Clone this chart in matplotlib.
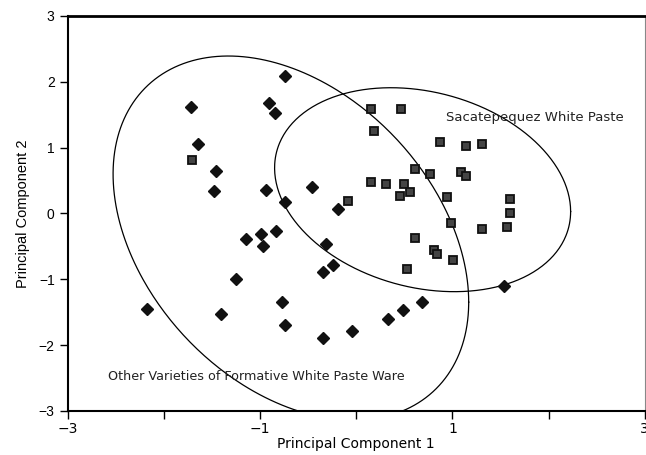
import matplotlib.pyplot as plt
import numpy as np

# other varieties of formative white paste ware (diamonds)
other_x = [-0.74, -1.72, -0.91, -0.85, -1.65, -1.46, -1.48, -0.94, -0.74, -0.46,
           -0.19, 1.54, 0.68, 0.49, 0.33, -0.04, -0.24, -0.31, -1.15, -0.99,
           -0.97, -0.83, -0.35, -1.25, -2.18, -1.41, -0.77, -0.74, -0.35]
other_y = [2.08, 1.62, 1.68, 1.53, 1.05, 0.65, 0.34, 0.35, 0.17, 0.40,
           0.07, -1.11, -1.34, -1.47, -1.60, -1.79, -0.78, -0.46, -0.39, -0.32,
           -0.49, -0.26, -0.89, -0.99, -1.46, -1.53, -1.35, -1.69, -1.90]

# sacatepequez white paste (squares)
sac_x = [-1.71, -0.09, 0.15, 0.47, 0.18, 0.875, 1.14, 1.31, 0.61, 0.77,
         1.09, 1.14, 0.15, 0.31, 0.50, 0.46, 0.56, 0.94, 1.60, 1.60,
         0.99, 1.31, 1.57, 0.61, 0.81, 0.84, 1.01, 0.53]
sac_y = [0.81, 0.19, 1.58, 1.59, 1.25, 1.09, 1.02, 1.05, 0.68, 0.60,
         0.63, 0.57, 0.48, 0.44, 0.45, 0.27, 0.32, 0.25, 0.22, 0.00,
         -0.14, -0.23, -0.20, -0.38, -0.55, -0.61, -0.71, -0.84]

# group ellipses: centre and shape matrix
other_center = [-0.68, -0.375]
other_shape = [[3.42, -1.80], [-1.80, 7.65]]
sac_center = [0.69, 0.36]
sac_shape = [[2.37, -0.51], [-0.51, 2.40]]

xticks = [-3, -2, -1, 0, 1, 2, 3]
xticklabels = ["\u22123", "", "\u22121", "", "1", "", "3"]
yticks = [-3, -2, -1, 0, 1, 2, 3]
yticklabels = ["\u22123", "\u22122", "\u22121", "0", "1", "2", "3"]


def ellipse_curve(center, shape, n=400):
    t = np.linspace(0, 2 * np.pi, n)
    L = np.linalg.cholesky(np.array(shape))
    pts = L @ np.vstack([np.cos(t), np.sin(t)])
    return pts[0] + center[0], pts[1] + center[1]


fig = plt.figure(figsize=(6.46, 4.55), dpi=100)
ax = fig.add_axes([0.105, 0.097, 0.893, 0.868])

ex, ey = ellipse_curve(other_center, other_shape)
ax.plot(ex, ey, color="black", lw=0.9)
ex, ey = ellipse_curve(sac_center, sac_shape)
ax.plot(ex, ey, color="black", lw=0.9)

ax.plot(other_x, other_y, linestyle="none", marker="D", markersize=6.2,
        color="#111111", markeredgecolor="#111111")
ax.plot(sac_x, sac_y, linestyle="none", marker="s", markersize=6.2,
        markerfacecolor="#444444", markeredgecolor="#111111", markeredgewidth=1.3)

ax.text(0.93, 1.40, "Sacatepequez White Paste", fontsize=9.5, color="#222222")
ax.text(-2.58, -2.53, "Other Varieties of Formative White Paste Ware",
        fontsize=9.2, color="#222222")

ax.set_xlim(-3, 3)
ax.set_ylim(-3, 3)
ax.set_xticks(xticks)
ax.set_xticklabels(xticklabels, fontsize=10)
ax.set_yticks(yticks)
ax.set_yticklabels(yticklabels, fontsize=10, family="Liberation Sans")
ax.tick_params(direction="out", length=6, width=1)
ax.tick_params(axis="x", pad=2)
ax.set_xlabel("Principal Component 1", fontsize=10, labelpad=1)
ax.set_ylabel("Principal Component 2", fontsize=10.5, family="Liberation Sans",
              labelpad=6)

ax.spines["top"].set_linewidth(2)
ax.spines["left"].set_linewidth(1.5)
ax.spines["bottom"].set_linewidth(1.5)
ax.spines["right"].set_linewidth(0.8)
ax.spines["right"].set_color("#888888")

fig.savefig("out.png", dpi=100)
